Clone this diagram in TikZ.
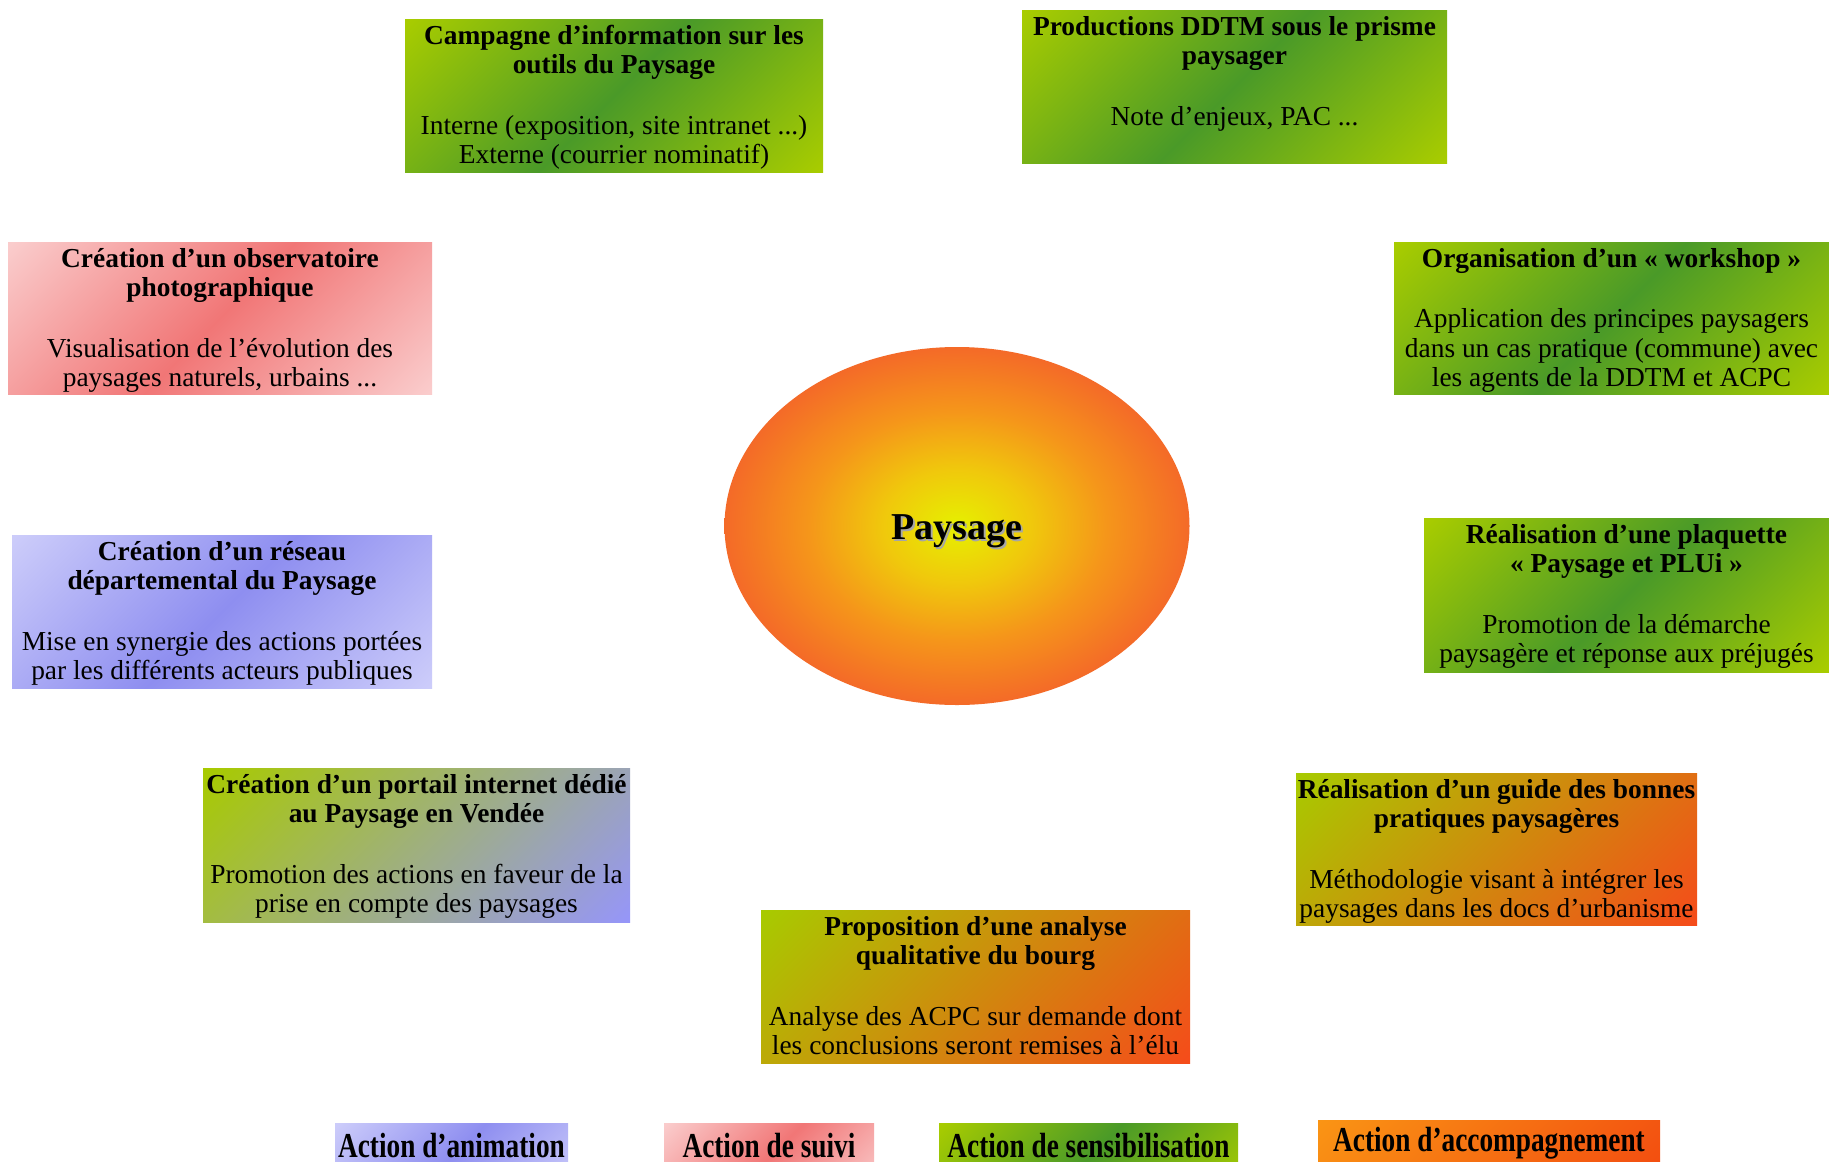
\documentclass[tikz,border=0pt]{standalone}
\usepackage{fontspec}
\usepackage{graphicx}
\setmainfont{Liberation Serif}
\usetikzlibrary{shapes.geometric}
\definecolor{gL}{RGB}{168,204,0}
\definecolor{gD}{RGB}{74,154,40}
\definecolor{pL}{RGB}{250,204,204}
\definecolor{pD}{RGB}{241,118,118}
\definecolor{bL}{RGB}{204,204,250}
\definecolor{bD}{RGB}{142,142,240}
\definecolor{oA}{RGB}{168,202,0}
\definecolor{oB}{RGB}{245,76,26}
\definecolor{vB}{RGB}{150,150,248}
\definecolor{aA}{RGB}{250,148,20}
\definecolor{aB}{RGB}{242,74,16}
\definecolor{sY}{RGB}{230,240,0}
\definecolor{sY2}{RGB}{240,200,12}
\definecolor{sM}{RGB}{245,150,26}
\definecolor{sO}{RGB}{244,106,40}
\pgfdeclarehorizontalshading{greenax}{100bp}{color(0bp)=(gL); color(15bp)=(gL); color(50bp)=(gD); color(85bp)=(gL); color(100bp)=(gL)}
\pgfdeclarehorizontalshading{pinkax}{100bp}{color(0bp)=(pL); color(15bp)=(pL); color(50bp)=(pD); color(85bp)=(pL); color(100bp)=(pL)}
\pgfdeclarehorizontalshading{blueax}{100bp}{color(0bp)=(bL); color(15bp)=(bL); color(50bp)=(bD); color(85bp)=(bL); color(100bp)=(bL)}
\pgfdeclarehorizontalshading{orangelin}{100bp}{color(0bp)=(oA); color(15bp)=(oA); color(85bp)=(oB); color(100bp)=(oB)}
\pgfdeclarehorizontalshading{violetlin}{100bp}{color(0bp)=(oA); color(15bp)=(oA); color(85bp)=(vB); color(100bp)=(vB)}
\pgfdeclarehorizontalshading{acclin}{100bp}{color(0bp)=(aA); color(15bp)=(aA); color(85bp)=(aB); color(100bp)=(aB)}
\pgfdeclareradialshading{sun}{\pgfpoint{0bp}{0bp}}{color(0bp)=(sY); color(8bp)=(sY2); color(16bp)=(sM); color(25bp)=(sO); color(50bp)=(sO)}
\tikzset{
  box/.style={draw=none, inner sep=0pt, outer sep=0pt, anchor=north west, shade, shading=#1, shading angle=-45,
    font=\fontsize{27.4}{29.5}\selectfont},
  legend/.style={draw=none, inner sep=0pt, outer sep=0pt, anchor=north west, shade, shading=#1, shading angle=-45,
    font=\fontsize{35}{40}\selectfont\bfseries},
  core/.style={ellipse, draw=none, inner sep=0pt, shade, shading=sun, font=\fontsize{38}{44}\selectfont\bfseries}
}
% name, x, y, w, h, shading, title, body
\newcommand\BoxNode[8]{%
  \node[box=#6, minimum width=#4pt, minimum height=#5pt] (#1) at (#2,#3)
    {\parbox[c][#5pt][t]{#4pt}{\centering\rule{0pt}{25pt}\textbf{#7}\\[31pt]#8\par}};}
% name, x, y, w, shading, baseline offset, text
\newcommand\LegNode[7]{%
  \node[legend=#5, minimum width=#4pt, minimum height=70pt] (#1) at (#2,#3)
    {\parbox[c][70pt][t]{#4pt}{\centering\rule{0pt}{#6pt}\scalebox{0.78}[1]{#7}\par}};}
\begin{document}
\begin{tikzpicture}[x=1pt,y=-1pt]
\clip (0,0) rectangle (1829,1162);
\fill[white] (0,0) rectangle (1829,1162);

\BoxNode{camp}{405}{19}{418}{153}{greenax}{Campagne d'information sur les\\outils du Paysage}{Interne (exposition, site intranet ...)\\Externe (courrier nominatif)}
\BoxNode{prod}{1022}{10}{425}{153}{greenax}{Productions DDTM sous le prisme\\paysager}{Note d'enjeux, PAC ...}
\BoxNode{obs}{8}{242}{424}{152}{pinkax}{Création d'un observatoire\\photographique}{Visualisation de l'évolution des\\paysages naturels, urbains ...}
\BoxNode{work}{1394}{242}{435}{152}{greenax}{Organisation d'un «~workshop~»}{Application des principes paysagers\\dans un cas pratique (commune) avec\\les agents de la DDTM et ACPC}
\BoxNode{res}{12}{535}{420}{153}{blueax}{Création d'un réseau\\départemental du Paysage}{Mise en synergie des actions portées\\par les différents acteurs publiques}
\BoxNode{plaq}{1424}{518}{405}{154}{greenax}{Réalisation d'une plaquette\\«~Paysage et PLUi~»}{Promotion de la démarche\\paysagère et réponse aux préjugés}
\BoxNode{port}{203}{768}{427}{154}{violetlin}{Création d'un portail internet dédié\\au Paysage en Vendée}{Promotion des actions en faveur de la\\prise en compte des paysages}
\BoxNode{guide}{1296}{773}{401}{152}{orangelin}{Réalisation d'un guide des bonnes\\pratiques paysagères}{Méthodologie visant à intégrer les\\paysages dans les docs d'urbanisme}
\BoxNode{prop}{761}{910}{429}{153}{orangelin}{Proposition d'une analyse\\qualitative du bourg}{Analyse des ACPC sur demande dont\\les conclusions seront remises à l'élu}

\node[core, minimum width=465pt, minimum height=358pt] (paysage) at (957,526)
  {\raisebox{-6pt}[\height][\depth]{\rlap{\kern2pt\raisebox{-2pt}{\color{black!35}Paysage}}Paysage}};

\LegNode{anim}{335}{1123}{233}{blueax}{34}{Action d'animation}
\LegNode{suivi}{664}{1123}{210}{pinkax}{34}{Action de suivi}
\LegNode{sensib}{939}{1123}{299}{greenax}{34}{Action de sensibilisation}
\LegNode{accomp}{1318}{1120}{342}{acclin}{31}{Action d'accompagnement}
\end{tikzpicture}
\end{document}
